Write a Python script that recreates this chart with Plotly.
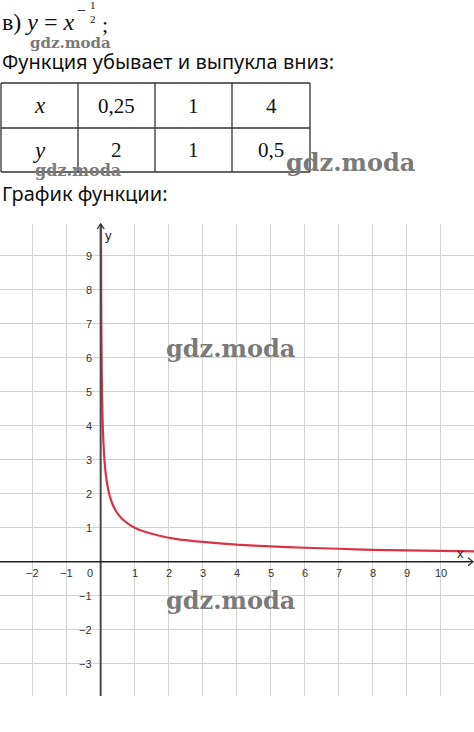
import plotly.graph_objects as go

# Page geometry (pixels)
W, H = 474, 732

# Values table shown above the graph
table_x = ["0,25", "1", "4"]
table_y = ["2", "1", "0,5"]

# Points along the curve y = x^(-1/2)
curve_x = [0.0102, 0.015, 0.02, 0.03, 0.04, 0.06, 0.08, 0.11, 0.15, 0.2, 0.25, 0.33,
           0.45, 0.6, 0.8, 1.0, 1.3, 1.7, 2.2, 3.0, 4.0, 5.0, 6.0, 7.0, 8.0, 9.0, 10.0, 11.0]
curve_y = [9.90, 8.16, 7.07, 5.77, 5.00, 4.08, 3.54, 3.02, 2.58, 2.24, 2.00, 1.74,
           1.49, 1.29, 1.12, 1.00, 0.88, 0.77, 0.67, 0.58, 0.50, 0.45, 0.41, 0.38,
           0.35, 0.33, 0.32, 0.30]

# Axis ticks
x_ticks = [-2, -1, 1, 2, 3, 4, 5, 6, 7, 8, 9, 10]
y_ticks = [-3, -2, -1, 1, 2, 3, 4, 5, 6, 7, 8, 9]

X_RANGE = [-2.96, 10.98]
Y_RANGE = [-3.95, 9.93]
PLOT_TOP, PLOT_BOTTOM = 224, 696


def px(x):
    return x / W


def py(y):
    return 1 - y / H


def label(s):
    return s.replace("-", "\u2212")


fig = go.Figure()

fig.add_trace(go.Scatter(
    x=curve_x, y=curve_y, mode="lines",
    line=dict(color="#d9334a", width=2.2, shape="spline", smoothing=0.6),
    hoverinfo="skip", showlegend=False,
))

annotations = []
shapes = []

TEXT_FONT = "Noto Sans"
SERIF = "Liberation Serif"

# Heading with the formula
annotations.append(dict(xref="paper", yref="paper", x=px(0), y=py(22), xanchor="left",
                        yanchor="middle", showarrow=False,
                        text="в) <i>y</i> = <i>x</i>",
                        font=dict(family=SERIF, size=24, color="#111")))
annotations.append(dict(xref="paper", yref="paper", x=px(81), y=py(10), xanchor="center",
                        yanchor="middle", showarrow=False, text="\u2212",
                        font=dict(family=SERIF, size=16, color="#111")))
# exponent fraction 1/2 stacked in one text
annotations.append(dict(xref="paper", yref="paper", x=px(92.5), y=py(12), xanchor="center",
                        yanchor="middle", showarrow=False, text="1<br>2",
                        font=dict(family=SERIF, size=11, color="#111")))
annotations.append(dict(xref="paper", yref="paper", x=px(100), y=py(25), xanchor="left",
                        yanchor="middle", showarrow=False, text=";",
                        font=dict(family=SERIF, size=22, color="#111")))

annotations.append(dict(xref="paper", yref="paper", x=px(0), y=py(62), xanchor="left",
                        yanchor="middle", showarrow=False,
                        text="Функция убывает и выпукла вниз:",
                        font=dict(family=TEXT_FONT, size=20, color="#111")))
annotations.append(dict(xref="paper", yref="paper", x=px(0), y=py(193), xanchor="left",
                        yanchor="middle", showarrow=False,
                        text="График функции:",
                        font=dict(family=TEXT_FONT, size=20, color="#111")))

# Table grid
col_edges = [1, 78, 155, 232, 310]
row_edges = [83, 128, 172]
for cx in col_edges:
    shapes.append(dict(type="line", xref="paper", yref="paper",
                       x0=px(cx), x1=px(cx), y0=py(row_edges[0]), y1=py(row_edges[-1]),
                       line=dict(color="#333", width=1.3)))
for ry in row_edges:
    shapes.append(dict(type="line", xref="paper", yref="paper",
                       x0=px(col_edges[0]), x1=px(col_edges[-1]), y0=py(ry), y1=py(ry),
                       line=dict(color="#333", width=1.3)))

row_centers = [(row_edges[0] + row_edges[1]) / 2, (row_edges[1] + row_edges[2]) / 2]
col_centers = [(col_edges[i] + col_edges[i + 1]) / 2 for i in range(4)]
for r, (head, vals) in enumerate([("x", table_x), ("y", table_y)]):
    annotations.append(dict(xref="paper", yref="paper", x=px(col_centers[0]),
                            y=py(row_centers[r]), xanchor="center", yanchor="middle",
                            showarrow=False, text=f"<i>{head}</i>",
                            font=dict(family=SERIF, size=23, color="#111")))
    for c, v in enumerate(vals):
        annotations.append(dict(xref="paper", yref="paper", x=px(col_centers[c + 1]),
                                y=py(row_centers[r]), xanchor="center", yanchor="middle",
                                showarrow=False, text=v,
                                font=dict(family=SERIF, size=21, color="#111")))

# Axis lines with arrowheads
shapes.append(dict(type="line", xref="x", yref="paper", x0=0, x1=0,
                   y0=py(PLOT_BOTTOM), y1=py(PLOT_TOP),
                   line=dict(color="#4a4a4a", width=2)))
shapes.append(dict(type="line", xref="paper", yref="y", x0=0, x1=px(473), y0=0, y1=0,
                   line=dict(color="#222", width=1.5)))
ax0 = 100.7
shapes.append(dict(type="path", xref="paper", yref="paper",
                   path=f"M {px(ax0 - 3.5)},{py(PLOT_TOP + 5)} L {px(ax0)},{py(PLOT_TOP)} "
                        f"L {px(ax0 + 3.5)},{py(PLOT_TOP + 5)}",
                   line=dict(color="#333", width=1.3)))
shapes.append(dict(type="path", xref="paper", yref="paper",
                   path=f"M {px(468)},{py(557.7)} L {px(473)},{py(561.7)} L {px(468)},{py(565.7)}",
                   line=dict(color="#333", width=1.3)))

# Tick labels placed next to the axes
TICK_FONT = dict(family="Liberation Sans", size=11, color="#333")
for t in x_ticks:
    annotations.append(dict(x=t, y=0, xref="x", yref="y", yshift=-11, xanchor="center",
                            yanchor="middle", showarrow=False, text=label(str(t)),
                            font=TICK_FONT))
annotations.append(dict(x=0, y=0, xref="x", yref="y", xshift=-11, yshift=-11,
                        xanchor="center", yanchor="middle", showarrow=False, text="0",
                        font=TICK_FONT))
for t in y_ticks:
    annotations.append(dict(x=0, y=t, xref="x", yref="y", xshift=-7, xanchor="right",
                            yanchor="middle", showarrow=False, text=label(str(t)),
                            font=TICK_FONT))
annotations.append(dict(xref="paper", yref="paper", x=px(108), y=py(235), xanchor="center",
                        yanchor="middle", showarrow=False, text="y",
                        font=dict(family="Liberation Sans", size=13, color="#222")))
annotations.append(dict(xref="paper", yref="paper", x=px(460), y=py(553), xanchor="center",
                        yanchor="middle", showarrow=False, text="x",
                        font=dict(family="Liberation Sans", size=13, color="#222")))

# Site marks
MARK = dict(family="DejaVu Serif", color="#7a7a7a")
for cx, cy, size in [(70, 43, 15), (78, 170, 16), (350, 163, 24), (230, 348, 24), (230, 600, 24)]:
    annotations.append(dict(xref="paper", yref="paper", x=px(cx), y=py(cy), xanchor="center",
                            yanchor="middle", showarrow=False, text="<b>gdz.moda</b>",
                            font=dict(size=size, **MARK)))

fig.update_layout(
    width=W, height=H,
    margin=dict(l=0, r=0, t=0, b=0),
    paper_bgcolor="white", plot_bgcolor="white",
    xaxis=dict(range=X_RANGE, domain=[0, 1], dtick=1, tick0=0, showgrid=True,
               gridcolor="#d3d3d3", gridwidth=1.2, zeroline=False, showticklabels=False,
               showline=False, ticks="", fixedrange=True),
    yaxis=dict(range=Y_RANGE, domain=[py(PLOT_BOTTOM), py(PLOT_TOP)], dtick=1, tick0=0,
               showgrid=True, gridcolor="#d3d3d3", gridwidth=1.2, zeroline=False,
               showticklabels=False, showline=False, ticks="", fixedrange=True),
    shapes=shapes,
    annotations=annotations,
    showlegend=False,
)

fig.write_html("out.html", config=dict(displayModeBar=False))
